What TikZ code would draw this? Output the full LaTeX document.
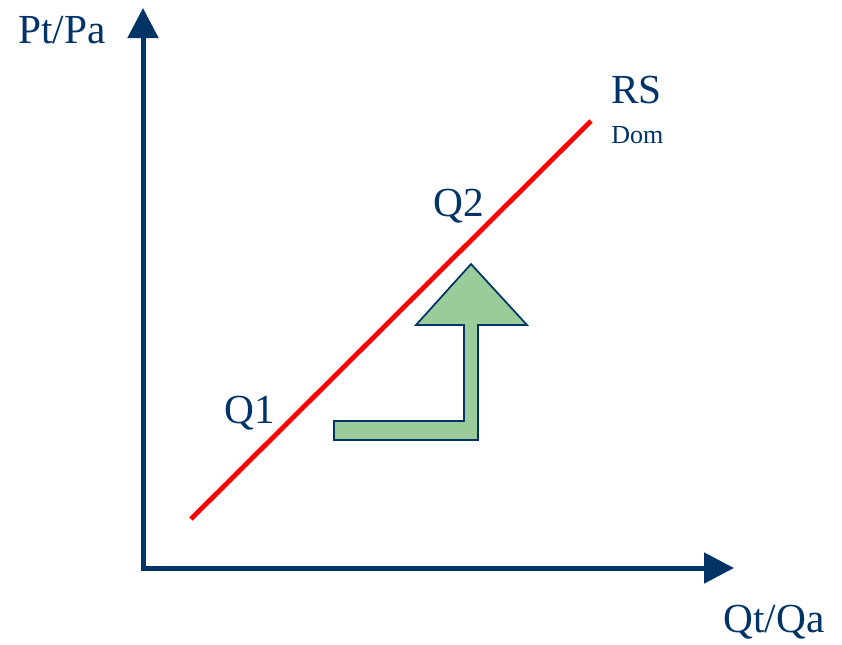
\documentclass[tikz,border=0pt]{standalone}
\usepackage{fontspec}
\setmainfont{Liberation Serif}
\usetikzlibrary{arrows.meta}
\colorlet{axiscol}{black}
\definecolor{axiscol}{RGB}{0,51,102}
\definecolor{supcol}{RGB}{255,0,0}
\definecolor{shiftcol}{RGB}{153,204,153}
\tikzset{
  every node/.style={text=axiscol, inner sep=0pt},
  biglabel/.style={font=\fontsize{31}{36}\selectfont},
  smalllabel/.style={font=\fontsize{19.5}{22}\selectfont},
  axisline/.style={line width=3.75pt, axiscol, -{Triangle[length=22.5pt, width=22.5pt]}}
}

\begin{document}
\begin{tikzpicture}[x=0.75pt, y=-0.75pt]

  \useasboundingbox (0,0) rectangle (842,644);

  % Axes.
  \coordinate (O) at (143,568);
  \coordinate (ytop) at (143,8);
  \coordinate (xend) at (734,568);
  \draw[axisline] (143,570.5) -- (ytop);
  \draw[axisline] (140.5,568) -- (xend);

  % Axis labels.
  \node[biglabel, anchor=base] (ylab) at (62,43) {Pt/Pa};
  \node[biglabel, anchor=base] (xlab) at (774,632) {Qt/Qa};

  % Supply curve.
  \coordinate (s1) at (191,519);
  \coordinate (s2) at (591,121);
  \draw[line width=3.6pt, supcol] (s1) -- (s2);
  \node[biglabel, anchor=base west] (rs) at (611,103) {RS};
  \node[smalllabel, anchor=base west] (dom) at (611,143) {Dom};

  % Points on the curve.
  \node[biglabel, anchor=base] (q1) at (250,423) {Q1};
  \node[biglabel, anchor=base] (q2) at (459,216) {Q2};

  % Bent arrow: shift from Q1 to Q2.
  \draw[line width=1.3pt, axiscol, fill=shiftcol, line join=miter]
    (334,421) -- (464,421) -- (464,325) -- (416,325) -- (471,264)
    -- (527,325) -- (478,325) -- (478,440) -- (334,440) -- cycle;

\end{tikzpicture}
\end{document}
